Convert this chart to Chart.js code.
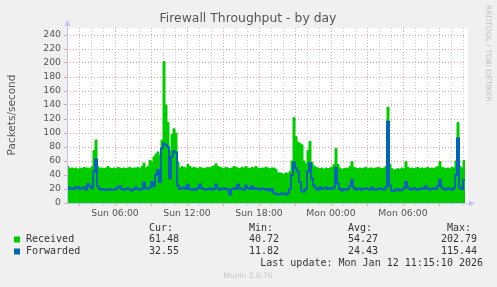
<!DOCTYPE html>
<html>
<head>
<meta charset="utf-8">
<script src="https://cdn.jsdelivr.net/npm/chart.js@4.4.1/dist/chart.umd.min.js"></script>
<style>
  html, body { margin: 0; padding: 0; background: #f0f0f0; }
  #wrap { width: 497px; height: 287px; }
</style>
</head>
<body>
<div id="wrap"><canvas id="chart" width="497" height="287"></canvas></div>
<script>
// samples every 10 minutes, first one at Sun 02:00 (minutes since Sun 00:00)
const startMinute = 120;
const stepMinutes = 10;
const endMinute = 2115; // Mon 11:15

const received = [
  62, 52, 49, 50, 49, 50, 48, 50, 49, 51,
  50, 50, 49, 52, 75, 90, 52, 49, 50, 49,
  50, 52, 50, 49, 50, 49, 51, 50, 49, 50,
  49, 50, 51, 49, 50, 50, 51, 49, 52, 57,
  50, 52, 61, 58, 66, 70, 73, 68, 90, 202,
  140, 115, 75, 98, 106, 100, 58, 50, 52, 51,
  50, 55, 52, 50, 51, 50, 49, 51, 50, 49,
  50, 51, 50, 52, 53, 56, 52, 51, 50, 49,
  51, 50, 49, 50, 52, 51, 50, 49, 51, 50,
  52, 50, 49, 51, 50, 52, 50, 49, 50, 50,
  51, 50, 49, 50, 50, 48, 43, 43, 42, 41,
  43, 42, 45, 60, 122, 95, 87, 85, 83, 60,
  56, 75, 88, 58, 53, 51, 50, 49, 50, 48,
  50, 49, 50, 51, 55, 78, 55, 50, 48, 49,
  50, 49, 52, 59, 51, 50, 49, 50, 49, 50,
  51, 49, 50, 50, 49, 50, 51, 50, 49, 50,
  52, 137, 55, 49, 47, 48, 49, 48, 50, 49,
  59, 51, 49, 50, 49, 50, 51, 49, 50, 49,
  50, 51, 49, 50, 49, 51, 52, 59, 51, 50,
  49, 50, 49, 51, 50, 60, 115, 52, 50, 61
];

const forwarded = [
  28, 22, 20, 21, 20, 22, 23, 20, 21, 22,
  19, 27, 24, 21, 45, 62, 24, 20, 19, 20,
  19, 19, 20, 19, 19, 20, 22, 24, 20, 19,
  20, 21, 19, 18, 20, 22, 20, 19, 20, 29,
  21, 20, 22, 30, 24, 40, 47, 30, 78, 85,
  83, 80, 35, 66, 74, 72, 25, 20, 21, 22,
  20, 26, 20, 19, 20, 19, 21, 26, 21, 20,
  19, 20, 21, 19, 20, 26, 21, 19, 20, 21,
  20, 19, 12, 20, 21, 20, 26, 21, 20, 19,
  25, 21, 20, 24, 20, 21, 20, 19, 21, 20,
  19, 20, 18, 20, 15, 13, 12, 13, 14, 13,
  12, 14, 20, 40, 58, 50, 45, 30, 18, 16,
  20, 45, 57, 35, 25, 21, 19, 22, 20, 21,
  22, 20, 21, 20, 22, 50, 28, 20, 18, 20,
  19, 20, 24, 33, 22, 19, 20, 21, 19, 20,
  21, 20, 19, 22, 20, 19, 20, 21, 20, 19,
  22, 116, 25, 18, 17, 19, 20, 18, 19, 21,
  30, 22, 20, 19, 21, 20, 19, 20, 21, 20,
  24, 21, 19, 20, 21, 20, 24, 33, 22, 20,
  19, 21, 20, 19, 21, 40, 92, 22, 20, 33
];

const xTickLabels = ['Sun 06:00', 'Sun 12:00', 'Sun 18:00', 'Mon 00:00', 'Mon 06:00'];
const seriesNames = ['Received', 'Forwarded'];
const statHeaders = ['Cur:', 'Min:', 'Avg:', 'Max:'];
const receivedStats = ['61.48', '40.72', '54.27', '202.79'];
const forwardedStats = ['32.55', '11.82', '24.43', '115.44'];
const lastUpdate = 'Last update: Mon Jan 12 11:15:10 2026';

const GREEN = '#00cc00';
const BLUE = '#0066b3';
const RED_GRID = '#e9a3a3';
const GRAY_GRID = '#cfcfcf';
const AXIS = '#c4c4f4';
const TEXT = '#555555';

const toPoints = arr => arr.map((v, i) => ({ x: startMinute + i * stepMinutes, y: v }));

// hourly grid from 03:00 onwards, label every 6 hours
const hourTicks = [];
for (let m = startMinute + 60; m < endMinute; m += 60) hourTicks.push({ value: m });

const decorations = {
  id: 'decorations',
  beforeDraw(chart) {
    const { ctx, chartArea: a } = chart;
    ctx.save();
    ctx.fillStyle = '#f0f0f0';
    ctx.fillRect(0, 0, chart.width, chart.height);
    ctx.fillStyle = '#ffffff';
    ctx.fillRect(a.left, a.top, a.right - a.left + 2, a.bottom - a.top);
    ctx.restore();
  },
  afterDraw(chart) {
    const { ctx, chartArea: a } = chart;
    ctx.save();

    // axes with arrows
    ctx.strokeStyle = AXIS;
    ctx.fillStyle = AXIS;
    ctx.lineWidth = 1;
    const x0 = Math.round(a.left) + 0.5;
    const y0 = Math.round(a.bottom) + 0.5;
    ctx.beginPath();
    ctx.moveTo(x0, y0);
    ctx.lineTo(x0, a.top - 3);
    ctx.moveTo(x0, y0);
    ctx.lineTo(a.right + 4, y0);
    ctx.stroke();
    ctx.beginPath();
    ctx.moveTo(x0, a.top - 8);
    ctx.lineTo(x0 - 3, a.top - 2);
    ctx.lineTo(x0 + 3, a.top - 2);
    ctx.closePath();
    ctx.fill();
    ctx.beginPath();
    ctx.moveTo(a.right + 9, y0);
    ctx.lineTo(a.right + 3, y0 - 3);
    ctx.lineTo(a.right + 3, y0 + 3);
    ctx.closePath();
    ctx.fill();

    // title
    ctx.fillStyle = TEXT;
    ctx.font = '12.4px "DejaVu Sans"';
    ctx.textAlign = 'center';
    ctx.textBaseline = 'middle';
    ctx.fillText('Firewall Throughput - by day', 248, 19);

    // y axis title
    ctx.save();
    ctx.translate(12, 115);
    ctx.rotate(-Math.PI / 2);
    ctx.font = '10.5px "DejaVu Sans"';
    ctx.fillText('Packets/second', 0, 0);
    ctx.restore();

    // rrdtool watermark
    ctx.save();
    ctx.translate(488, 5);
    ctx.rotate(Math.PI / 2);
    ctx.fillStyle = '#c0c0c0';
    ctx.font = '7.5px "DejaVu Sans"';
    ctx.textAlign = 'left';
    ctx.fillText('RRDTOOL / TOBI OETIKER', 0, 0);
    ctx.restore();

    // legend table
    ctx.font = '10px "DejaVu Sans Mono"';
    ctx.fillStyle = '#333333';
    ctx.textAlign = 'left';
    const cols = [149, 249, 348, 447];
    statHeaders.forEach((h, i) => ctx.fillText(h, cols[i], 228));
    const rows = [
      { name: seriesNames[0], stats: receivedStats, color: GREEN, y: 239.5 },
      { name: seriesNames[1], stats: forwardedStats, color: BLUE, y: 251.5 }
    ];
    rows.forEach(r => {
      ctx.fillStyle = r.color;
      ctx.fillRect(14, r.y - 3, 6, 6);
      ctx.fillStyle = '#333333';
      ctx.textAlign = 'left';
      ctx.fillText(r.name, 26, r.y);
      r.stats.forEach((s, i) => {
        if (i === 3) {
          ctx.textAlign = 'right';
          ctx.fillText(s, 477, r.y);
        } else {
          ctx.textAlign = 'left';
          ctx.fillText(s, cols[i], r.y);
        }
      });
    });
    ctx.textAlign = 'right';
    ctx.fillText(lastUpdate, 483, 263.5);

    ctx.textAlign = 'center';
    ctx.fillStyle = '#c4c4c4';
    ctx.font = '7.5px "DejaVu Sans"';
    ctx.fillText('Munin 2.0.76', 248, 276);

    ctx.restore();
  }
};

new Chart(document.getElementById('chart'), {
  type: 'line',
  data: {
    datasets: [
      {
        label: seriesNames[1],
        data: toPoints(forwarded),
        borderColor: BLUE,
        borderWidth: 2,
        pointRadius: 0,
        stepped: 'after',
        fill: false,
        order: 0
      },
      {
        label: seriesNames[0],
        data: toPoints(received),
        borderColor: GREEN,
        backgroundColor: GREEN,
        borderWidth: 1,
        pointRadius: 0,
        stepped: 'after',
        fill: 'origin',
        order: 1
      }
    ]
  },
  options: {
    responsive: false,
    animation: false,
    layout: { padding: { top: 28, right: 31, left: 0, bottom: 0 } },
    plugins: { legend: { display: false }, tooltip: { enabled: false } },
    scales: {
      x: {
        type: 'linear',
        min: startMinute,
        max: endMinute,
        afterBuildTicks: scale => { scale.ticks = hourTicks.map(t => ({ value: t.value })); },
        afterFit: scale => { scale.height = 84; },
        ticks: {
          autoSkip: false,
          maxRotation: 0,
          padding: 2,
          color: TEXT,
          font: { family: 'DejaVu Sans', size: 9.3 },
          callback: v => (v % 360 === 0 ? xTickLabels[v / 360 - 1] : '')
        },
        grid: {
          color: c => (c.tick && c.tick.value % 180 === 0 ? RED_GRID : GRAY_GRID),
          tickLength: 3,
          lineWidth: 1
        },
        border: { display: false, dash: [1, 2] }
      },
      y: {
        min: 0,
        max: 250,
        afterFit: scale => { scale.width = 67; },
        ticks: {
          stepSize: 10,
          padding: 3,
          color: TEXT,
          font: { family: 'DejaVu Sans', size: 9.3 },
          callback: v => (v % 20 === 0 && v <= 240 ? v : '')
        },
        grid: {
          color: c => (c.tick && c.tick.value % 20 === 0 ? RED_GRID : GRAY_GRID),
          tickLength: 3,
          lineWidth: 1
        },
        border: { display: false, dash: [1, 2] }
      }
    }
  },
  plugins: [decorations]
});
</script>
</body>
</html>
